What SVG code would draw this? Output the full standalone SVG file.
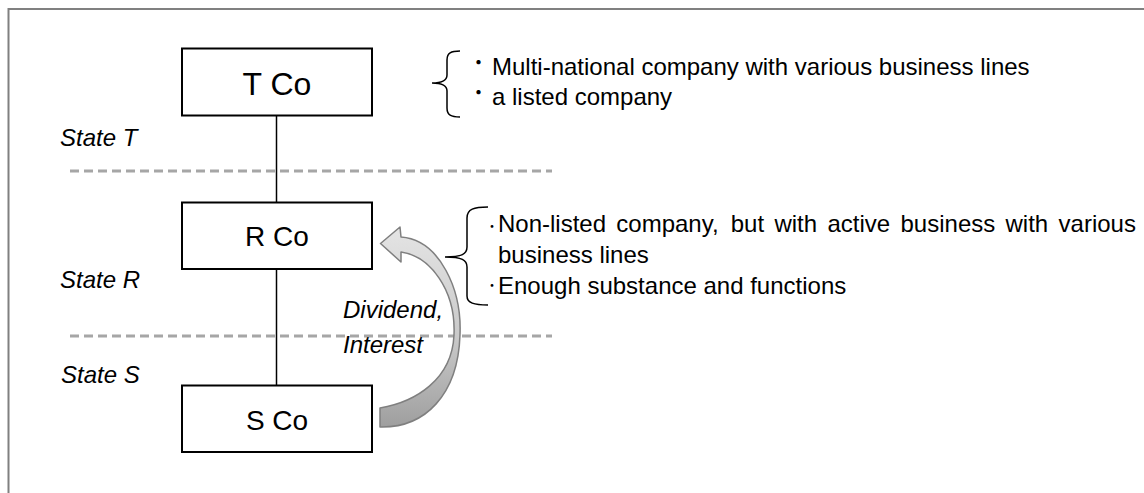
<svg xmlns="http://www.w3.org/2000/svg" width="1144" height="493" viewBox="0 0 1144 493">
  <style>
    .frame { fill: #ffffff; stroke: #808080; stroke-width: 2; }
    .box { fill: #ffffff; stroke: #000000; stroke-width: 2; }
    .link { stroke: #000000; stroke-width: 1.5; fill: none; }
    .border { stroke: #a6a6a6; stroke-width: 3; stroke-dasharray: 9 5; fill: none; }
    .brace { stroke: #000000; stroke-width: 1.5; fill: none; }
    .t { font-family: "Liberation Sans", Arial, sans-serif; fill: #000000; }
    .big { font-size: 32px; }
    .mid { font-size: 28px; }
    .body { font-size: 24px; }
    .it { font-style: italic; }
    .dot { font-family: "Noto Sans CJK JP", sans-serif; fill: #000000; text-anchor: middle; }
    .flow { fill: url(#flowFill); stroke: #7f7f7f; stroke-width: 1.5; stroke-linejoin: round; }
  </style>
  <defs>
    <linearGradient id="flowFill" gradientUnits="userSpaceOnUse" x1="0" y1="228" x2="0" y2="428">
      <stop offset="0" stop-color="#e4e4e4"/>
      <stop offset="0.55" stop-color="#c9c9c9"/>
      <stop offset="1" stop-color="#9e9e9e"/>
    </linearGradient>
  </defs>

  <!-- outer frame (open to the right and bottom) -->
  <rect class="frame" x="8.5" y="9" width="1200" height="600"/>

  <!-- jurisdiction borders -->
  <g id="borders">
    <line class="border" x1="70" y1="171" x2="552" y2="171"/>
    <line class="border" x1="70" y1="336" x2="552" y2="336"/>
  </g>

  <!-- state labels -->
  <g id="states">
    <text class="t body it" x="60" y="146">State T</text>
    <text class="t body it" x="60" y="288">State R</text>
    <text class="t body it" x="61" y="383">State S</text>
  </g>

  <!-- ownership links -->
  <g id="connectors">
    <line class="link" x1="276.5" y1="116" x2="276.5" y2="202"/>
    <line class="link" x1="276.5" y1="269" x2="276.5" y2="385"/>
    <!-- dividend / interest flow from S Co back up to R Co -->
    <path class="flow" d="M380,408 C415,402 452,380 454,335 C456,290 430,256 401,252 L401,262 L380.5,243.5 L400,227 L401,237 C440,240 462,290 460,335 C458,395 425,428 380,427 Z"/>
    <text class="t body it" x="343" y="318">Dividend,</text>
    <text class="t body it" x="343" y="353">Interest</text>
  </g>

  <g id="node-tco">
    <rect class="box" x="182" y="48.5" width="190" height="67"/>
    <text class="t big" x="277" y="95" text-anchor="middle">T Co</text>
  </g>

  <g id="node-rco">
    <rect class="box" x="182" y="202.5" width="190" height="66.5"/>
    <text class="t mid" x="277" y="246" text-anchor="middle">R Co</text>
  </g>

  <g id="node-sco">
    <rect class="box" x="182" y="385.5" width="190" height="66.5"/>
    <text class="t mid" x="277" y="430" text-anchor="middle">S Co</text>
  </g>

  <!-- notes on T Co -->
  <g id="note-tco">
    <path class="brace" d="M460,51 C451,51 447,53 447,60 L447,75 C447,80 443,83 432,83 C443,83 447,86 447,91 L447,108 C447,115 451,117 460,117"/>
    <text class="dot" x="478.5" y="70" font-size="20">・</text>
    <text class="t body" x="492" y="75">Multi-national company with various business lines</text>
    <text class="dot" x="478.5" y="100" font-size="20">・</text>
    <text class="t body" x="492" y="105">a listed company</text>
  </g>

  <!-- notes on R Co -->
  <g id="note-rco">
    <path class="brace" d="M488,207 C474,207 467,209 467,218 L467,247 C467,254 462,257 445,257 C462,257 467,260 467,267 L467,296 C467,303 474,305 488,305"/>
    <text class="dot" x="492" y="231" font-size="13">・</text>
    <text class="t body" y="231.5"><tspan x="498">Non-listed</tspan><tspan x="616.3">company,</tspan><tspan x="730.7">but</tspan><tspan x="774.4">with</tspan><tspan x="827.4">active</tspan><tspan x="900.5">business</tspan><tspan x="1005.5">with</tspan><tspan x="1058.6">various</tspan></text>
    <text class="t body" x="498" y="263">business lines</text>
    <text class="dot" x="492" y="290" font-size="13">・</text>
    <text class="t body" x="498" y="294">Enough substance and functions</text>
  </g>
</svg>
